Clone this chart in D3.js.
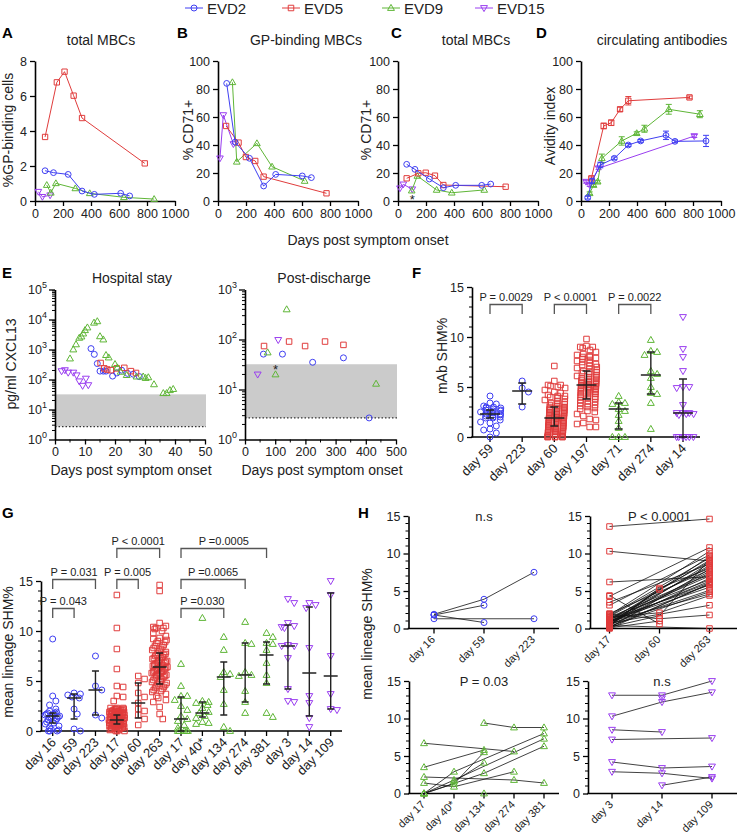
<!DOCTYPE html>
<html>
<head>
<meta charset="utf-8">
<script src="https://cdn.jsdelivr.net/npm/d3@7"></script>
<style>
    body { margin: 0; background: #fff; }
    svg { display: block; font-family: "Liberation Sans", Arial, Helvetica, sans-serif; }
</style>
</head>
<body>
<svg id="fig" width="738" height="834"></svg>
<script>
// ---------- series ----------
const seriesNames = ["EVD2", "EVD5", "EVD9", "EVD15"];
const seriesColors = ["#3f3ff2", "#e03c3c", "#5fb637", "#9a3ef0"];
const seriesShapes = ["circle", "square", "up", "down"];

// ---------- A-D: [day, value] (D: [day, value, sem]) ----------
const daysTicks = [0, 200, 400, 600, 800, 1000];
const aTicks = [0, 2, 4, 6, 8];
const pctTicks = [0, 20, 40, 60, 80, 100];

const aEVD2 = [[72, 1.73], [132, 1.62], [237, 1.52], [336, 0.57], [424, 0.38], [612, 0.44], [676, 0.29]];
const aEVD5 = [[72, 3.66], [156, 6.78], [211, 7.39], [276, 6.02], [336, 4.74], [784, 2.15]];
const aEVD9 = [[84, 0.91], [113, 0.47], [149, 1.01], [288, 0.72], [391, 0.44], [635, 0.21], [851, 0.11]];
const aEVD15 = [[24, 0.53], [53, 0.24], [108, 0.33]];

const bEVD2 = [[62, 84], [122, 42], [225, 30.5], [326, 10.7], [412, 19], [602, 17.9], [667, 16.7]];
const bEVD5 = [[58, 53.6], [147, 41.7], [199, 31.4], [266, 28.6], [326, 17.4], [775, 5.5]];
const bEVD9 = [[103, 84.8], [134, 28], [278, 41.2], [386, 24.5], [619, 14.3]];
const bEVD15 = [[14, 30.5], [38, 61.4], [110, 40.7]];

const cEVD2 = [[62, 26.2], [121, 22.6], [224, 15.7], [324, 9.5], [412, 11.2], [598, 11.2], [662, 12.1]];
const cEVD5 = [[62, 16.2], [145, 19.8], [198, 20.2], [264, 18.1], [324, 11.4], [769, 10.2]];
const cEVD9 = [[98, 7.4], [138, 17.9], [276, 7.9], [384, 5.9], [616, 7.9]];
const cEVD15 = [[14, 9.1], [38, 11.9], [102, 8.4]];
const cStar = [102, 3.2];

const dEVD2 = [[48, 2.4, 1], [79, 14.3, 1.5], [138, 25.7, 2], [238, 30.5, 1], [338, 40, 1], [426, 42.9, 1], [607, 46.9, 3], [671, 42.6, 1], [893, 42.9, 4]];
const dEVD5 = [[74, 16.2, 1], [162, 53.6, 2], [216, 55.9, 2], [279, 65.5, 1.5], [338, 71.6, 3], [775, 74, 1]];
const dEVD9 = [[62, 5.5, 1], [90, 11.4, 1], [119, 13.8, 1], [149, 30.5, 3], [291, 42.9, 3], [398, 48.4, 1], [453, 51.6, 2.5], [627, 65.5, 3.5], [849, 62, 2.5]];
const dEVD15 = [[36, 13.8, 1], [62, 11.4, 1], [126, 23.4, 1], [809, 46.4, 1]];

// ---------- E: CXCL13 pg/ml ----------
const hospTicks = [0, 10, 20, 30, 40, 50];
const postTicks = [0, 100, 200, 300, 400, 500];
const lodBand = [2.7, 32];

const eHospEVD2 = [[12, 1070], [13.1, 690], [14.1, 340], [15, 190], [16.1, 190], [17, 190], [19.2, 130], [20.6, 165], [22.2, 205], [24.2, 160], [26.1, 150], [28.1, 125]];
const eHospEVD5 = [[15.2, 355], [16.4, 235], [17.4, 215], [18.6, 205], [20.6, 235], [23.1, 245], [25.3, 190], [27, 165]];
const eHospEVD9 = [[5, 500], [6.1, 1000], [7, 1480], [8.1, 2450], [8.8, 2700], [9.4, 3400], [10, 4400], [10.8, 5400], [13, 7800], [14.1, 8700],
    [15, 2750], [16.1, 2150], [17, 650], [17.9, 540], [20, 325], [20.8, 250], [21.9, 180], [23.9, 140], [27.2, 125], [29.4, 125],
    [30.2, 112], [31.1, 118], [33, 69], [36.1, 35], [37.2, 35], [38.3, 44], [39.4, 48]];
const eHospEVD15 = [[2.2, 190], [3.3, 205], [4.4, 170], [6.1, 170], [7.2, 138], [8.1, 87], [9.2, 62], [10.3, 107], [11.1, 65]];

const ePostEVD2 = [[61, 51], [124, 51], [224, 35], [326, 43], [411, 2.7]];
const ePostEVD5 = [[63, 74], [146, 91], [199, 74], [265, 91], [326, 78]];
const ePostEVD9 = [[75, 55], [138, 400], [101, 20], [434, 13]];
const ePostEVD15 = [[110, 98], [42, 20]];
const ePostStar = [101, 27];

// ---------- F: mAb SHM% ----------
const fCats = ["day 59", "day 223", "day 60", "day 197", "day 71", "day 274", "day 14"];
const fSeries = [0, 0, 1, 1, 2, 2, 3];
const fDay59 = [4.1, 3.4, 3.3, 3.1, 3.0, 3.0, 2.9, 2.9, 2.8, 2.7, 2.7, 2.6, 2.6, 2.5, 2.4, 2.3, 2.3, 2.2, 2.2, 2.1, 2.0, 2.0, 1.9, 1.9, 1.7, 1.5, 1.4, 1.1, 0.8, 0.7, 0.4, 0.0];
const fDay223 = [5.6, 4.9, 4.5, 3.0];
const fDay60 = [7.1, 5.6, 5.2, 5.2, 5.1, 5.0, 4.9, 4.7, 4.5, 4.4, 4.2, 4.1, 4.1, 4.0, 3.9, 3.8, 3.7, 3.6, 3.5, 3.4, 3.3, 3.3, 3.2, 3.1,
    3.0, 3.0, 2.9, 2.9, 2.8, 2.8, 2.7, 2.7, 2.6, 2.6, 2.5, 2.5, 2.4, 2.4, 2.3, 2.3, 2.2, 2.2, 2.1, 2.1, 2.0, 2.0, 1.9, 1.9, 1.9,
    1.8, 1.8, 1.7, 1.7, 1.6, 1.6, 1.5, 1.5, 1.4, 1.4, 1.3, 1.3, 1.2, 1.2, 1.1, 1.1, 1.0, 1.0, 1.0, 0.9, 0.9, 0.8, 0.8, 0.7, 0.7,
    0.6, 0.6, 0.5, 0.5, 0.4, 0.4, 0.3, 0.3, 0.2, 0.2, 0.1, 0.1, 0, 0, 0, 0, 0, 0];
const fDay197 = [9.8, 9.1, 9.0, 9.0, 8.9, 8.7, 8.5, 8.3, 8.2, 8.1, 8.0, 8.0, 7.9, 7.8, 7.7, 7.6, 7.5, 7.4, 7.3, 7.2, 7.1, 7.0, 6.9,
    6.8, 6.7, 6.6, 6.5, 6.5, 6.4, 6.3, 6.2, 6.1, 6.0, 6.0, 5.9, 5.8, 5.8, 5.7, 5.6, 5.6, 5.5, 5.5, 5.4, 5.4, 5.3, 5.3, 5.2, 5.2,
    5.1, 5.1, 5.0, 5.0, 4.9, 4.9, 4.8, 4.8, 4.7, 4.7, 4.6, 4.5, 4.5, 4.4, 4.3, 4.3, 4.2, 4.1, 4.0, 4.0, 3.9, 3.8, 3.7, 3.6, 3.5,
    3.4, 3.3, 3.2, 3.1, 3.0, 2.9, 2.8, 2.6, 2.5, 2.3, 2.1, 1.8, 1.7, 1.4, 1.3, 1.0, 1.0];
const fDay71 = [4.1, 3.5, 3.4, 3.3, 2.8, 2.6, 2.2, 1.6, 0.9, 0, 0, 0];
const fDay274 = [9.7, 8.6, 8.5, 8.2, 6.6, 6.3, 5.9, 5.0, 4.4, 4.3, 3.4, 0.8];
const fDay14 = [12.0, 8.8, 8.0, 6.6, 5.0, 5.0, 4.9, 3.2, 2.4, 2.4, 2.3, 2.3, 2.4, 2.2, 0, 0, 0, 0, 0, 0];
const fMedian = [2.3, 4.6, 1.9, 5.2, 2.8, 6.2, 2.4];
const fLow = [1.9, 3.3, 1.1, 3.8, 0.8, 4.3, 0];
const fHigh = [2.7, 5.4, 3.0, 6.6, 3.4, 8.5, 5.8];
const fBrackets = [[0, 1, "P = 0.0029"], [2, 3, "P < 0.0001"], [4, 5, "P = 0.0022"]];

// ---------- G: mean lineage SHM% ----------
const gCats = ["day 16", "day 59", "day 223", "day 17", "day 60", "day 263", "day 17", "day 40*", "day 134", "day 274", "day 381", "day 3", "day 14", "day 109"];
const gSeries = [0, 0, 0, 1, 1, 1, 2, 2, 2, 2, 2, 3, 3, 3];
const gDay16 = [9.2, 3.5, 3.0, 2.6, 2.2, 2.0, 1.9, 1.8, 1.8, 1.7, 1.7, 1.6, 1.5, 1.5, 1.4, 1.4, 1.3, 1.2, 1.1, 1.0, 0.9, 0.8, 0.7, 0.5, 0.3, 0.2, 0.1, 0, 0, 0];
const gDay59 = [3.8, 3.7, 3.6, 3.4, 3.3, 2.2, 1.7, 0.2, 0.0];
const gDay223 = [7.5, 4.5, 4.1, 1.6, 1.3];
const gDay17r = [13.6, 10.3, 8.2, 6.2, 4.5, 4.4, 3.5, 3.4, 3.0,
    2.3, 2.3, 2.3, 2.2, 2.2, 2.2, 2.1, 2.1, 2.1, 2.0, 2.0, 2.0, 2.0, 1.9, 1.9, 1.9, 1.9, 1.8, 1.8, 1.8, 1.8, 1.7, 1.7, 1.7, 1.7,
    1.6, 1.6, 1.6, 1.6, 1.5, 1.5, 1.5, 1.5, 1.4, 1.4, 1.4, 1.4, 1.3, 1.3, 1.3, 1.3, 1.2, 1.2, 1.2, 1.2, 1.1, 1.1, 1.1, 1.1,
    1.0, 1.0, 1.0, 1.0, 0.9, 0.9, 0.9, 0.9, 0.8, 0.8, 0.8, 0.8, 0.7, 0.7, 0.7, 0.7, 0.6, 0.6, 0.6, 0.5, 0.5, 0.5, 0.4, 0.4, 0.4,
    0.3, 0.3, 0.3, 0.2, 0.2, 0.2, 0.1, 0.1, 0.0, 0.0, 0.0];
const gDay60r = [5.5, 5.2, 4.8, 3.8, 3.4, 2.8, 2.2, 2.0, 1.6, 1.2, 0.6];
const gDay263r = [14.6, 14.0, 10.8, 10.5, 10.4, 10.3, 10.3, 10.2, 10.0, 9.8, 9.5, 9.3, 9.2, 9.1, 9.0, 8.9, 8.8, 8.6, 8.5, 8.4,
    8.3, 8.2, 8.1, 8.0, 7.9, 7.8, 7.7, 7.6, 7.6, 7.5, 7.4, 7.3, 7.3, 7.2, 7.1, 7.0, 7.0, 6.9, 6.8, 6.8, 6.7, 6.6, 6.6, 6.5, 6.5,
    6.4, 6.4, 6.3, 6.3, 6.2, 6.2, 6.1, 6.0, 6.0, 5.9, 5.9, 5.8, 5.8, 5.7, 5.6, 5.6, 5.5, 5.5, 5.4, 5.3, 5.2, 5.1, 5.0, 4.9, 4.9,
    4.8, 4.7, 4.6, 4.5, 4.4, 4.3, 4.2, 4.1, 4.0, 3.9, 3.7, 3.5, 3.3, 3.1, 2.9, 2.4, 1.7, 1.2];
const gDay17g = [6.7, 4.5, 3.5, 3.5, 3.1, 2.5, 2.1, 1.5, 1.2, 1.0, 0.6, 0.3, 0, 0, 0, 0, 0];
const gDay40g = [11.3, 3.0, 2.9, 2.8, 2.6, 2.3, 1.9, 1.8, 1.5, 1.3, 0.9, 0.8, 0.7];
const gDay134g = [9.4, 8.1, 5.9, 5.7, 5.4, 4.1, 2.7, 0.4, 0];
const gDay274g = [10.9, 8.8, 8.7, 5.9, 5.6, 5.5, 4.0, 2.9, 1.8];
const gDay381g = [9.8, 9.4, 8.8, 8.7, 8.1, 6.8, 5.6, 4.8, 1.8, 1.4];
const gDay3p = [13.2, 12.8, 10.8, 10.5, 10.4, 10.3, 8.6, 8.5, 8.5, 7.3, 4.2, 3.0, 2.9];
const gDay14p = [12.8, 12.6, 12.3, 8.3, 3.5, 2.8, 1.3, 0.4];
const gDay109p = [15.0, 13.6, 7.5, 3.7, 2.2, 2.1];
const gMedian = [1.5, 3.3, 4.1, 1.1, 2.8, 6.4, 1.2, 1.8, 5.4, 5.6, 7.6, 8.5, 5.8, 5.5];
const gLow = [0.8, 1.2, 1.6, 0.7, 1.3, 4.7, 0, 1.4, 1.6, 2.9, 4.7, 4.2, 1.5, 2.2];
const gHigh = [1.8, 3.7, 6.0, 1.6, 4.8, 7.8, 3.4, 2.9, 6.9, 8.8, 8.9, 10.6, 12.4, 13.8];
// [from, to, label, level]
const gBrackets = [[0, 1, "P = 0.043", 2], [0, 2, "P = 0.031", 1], [3, 4, "P = 0.005", 1], [3, 5, "P < 0.0001", 0],
    [6, 10, "P =0.0005", 0], [6, 9, "P =0.0065", 1], [6, 8, "P =0.030", 2]];

// ---------- H: paired lineages ----------
const hCatsEVD2 = ["day 16", "day 59", "day 223"];
const hRowsEVD2 = [[1.9, 3.9, 7.5], [1.8, 3.1, null], [1.8, 0.8, null], [1.3, null, 1.3]];
const hCatsEVD5 = ["day 17", "day 60", "day 263"];
const hRowsEVD5 = [[13.6, null, 14.6], [10.3, null, 9.0], [6.2, null, 6.9], [4.4, 0.6, null], [4.3, null, 10.8], [3.5, null, 8.6],
    [3.1, null, 9.8], [2.0, null, 7.8], [1.9, 1.3, 1.8], [1.8, null, 10.3], [1.7, null, 9.4], [1.6, null, 8.9], [1.5, 2.1, 4.4],
    [1.5, null, 7.2], [1.4, null, 6.5], [1.3, null, 8.2], [1.2, null, 5.8], [1.2, null, 7.0], [1.1, null, 9.1], [1.0, null, 6.1],
    [1.0, null, 5.5], [0.9, null, 8.4], [0.9, null, 4.6], [0.8, null, 7.6], [0.8, null, 6.3], [0.7, null, 3.1], [0.7, null, 9.6],
    [0.6, null, 5.1], [0.6, null, 7.4], [0.5, 5.2, null], [0.5, null, 8.7], [0.4, null, 0], [0.4, null, 6.7], [0.3, 5.4, 8.0],
    [0.3, null, 4.9], [0.2, 1.7, 9.2], [0.2, null, 5.9], [0.1, 1.0, null], [0.1, null, 7.9], [0.0, null, 6.0]];
const hCatsEVD9 = ["day 17", "day 40*", "day 134", "day 274", "day 381"];
const hRowsEVD9 = [[6.7, null, null, 5.6, null], [3.5, null, 5.8, null, null], [2.2, null, null, 1.8, 1.4], [1.4, 0.9, null, 2.9, null],
    [0, 2.9, null, null, 8.0], [0, 1.8, null, null, 7.3], [0, 1.3, 5.5, null, null], [0, null, 2.7, null, 6.3],
    [null, 1.6, 4.1, null, null], [null, null, 9.4, 8.8, 8.8], [null, null, 0, null, null]];
const hCatsEVD15 = ["day 3", "day 14", "day 109"];
const hRowsEVD15 = [[13.1, 13.1, 15.0], [10.3, 12.2, 13.5], [null, 12.7, null], [8.5, 8.2, null], [7.2, null, 7.4],
    [4.2, 3.4, 3.6], [2.9, 2.7, 2.0], [null, 1.1, 2.2]];
const hLabels = ["n.s", "P < 0.0001", "P = 0.03", "n.s"];

// ---------- drawing ----------
const svg = d3.select("#fig");
svg.append("rect").attr("width", 738).attr("height", 834).attr("fill", "#fff");

const INK = "#222";
const FONT_TICK = 12.5;

function shapePath(shape, r) {
    const p = d3.path();
    if (shape === "circle") { p.moveTo(r, 0); p.arc(0, 0, r, 0, 2 * Math.PI); }
    else if (shape === "square") { const h = r * 0.92; p.rect(-h, -h, 2 * h, 2 * h); }
    else if (shape === "up") { p.moveTo(0, -r * 1.2); p.lineTo(r * 1.15, r * 0.8); p.lineTo(-r * 1.15, r * 0.8); p.closePath(); }
    else { p.moveTo(0, r * 1.2); p.lineTo(r * 1.15, -r * 0.8); p.lineTo(-r * 1.15, -r * 0.8); p.closePath(); }
    return p.toString();
}

function drawMarks(g, pts, si, r = 3) {
    g.append("g").selectAll("path").data(pts).join("path")
        .attr("d", shapePath(seriesShapes[si], r))
        .attr("transform", d => `translate(${d.x},${d.y})`)
        .attr("fill", "none")
        .attr("stroke", seriesColors[si])
        .attr("stroke-width", 1);
}

function axisStyle(sel) {
    sel.select(".domain").attr("stroke", "#000").attr("stroke-width", 1.6);
    sel.selectAll(".tick line").attr("stroke", "#000").attr("stroke-width", 1.3);
    sel.selectAll(".tick text").attr("font-size", FONT_TICK).attr("fill", INK);
}

function text(g, x, y, str, opts = {}) {
    const t = g.append("text").attr("x", x).attr("y", y).text(str)
        .attr("font-size", opts.size ?? 14)
        .attr("fill", opts.fill ?? INK)
        .attr("text-anchor", opts.anchor ?? "middle");
    if (opts.bold) t.attr("font-weight", "bold");
    return t;
}

function rotText(g, x, y, str, size = 14) {
    g.append("text").attr("transform", `translate(${x},${y}) rotate(-90)`)
        .attr("text-anchor", "middle").attr("font-size", size).attr("fill", INK).text(str);
}

// legend
const legendX = [185, 282, 382, 475];
seriesNames.forEach((name, i) => {
    const g = svg.append("g");
    g.append("line").attr("x1", legendX[i]).attr("x2", legendX[i] + 18).attr("y1", 8).attr("y2", 8)
        .attr("stroke", seriesColors[i]).attr("stroke-width", 1);
    drawMarks(g, [{ x: legendX[i] + 9, y: 8 }], i, 3);
    text(g, legendX[i] + 22, 13.5, name, { size: 15, anchor: "start" });
});

// A-D
function xyPanel(opt) {
    const g = svg.append("g");
    const x = d3.scaleLinear([0, 1000], [opt.x0, opt.x0 + 140]);
    const y = d3.scaleLinear([0, opt.yMax], [201, 61]);
    g.append("g").attr("transform", "translate(0,201)")
        .call(d3.axisBottom(x).tickValues(daysTicks).tickFormat(d3.format("d")).tickSize(5).tickSizeOuter(0).tickPadding(3))
        .call(axisStyle);
    g.append("g").attr("transform", `translate(${opt.x0},0)`)
        .call(d3.axisLeft(y).tickValues(opt.ticks).tickSize(5).tickSizeOuter(0).tickPadding(3)).call(axisStyle);

    for (let si = opt.series.length - 1; si >= 0; si--) {
        const data = opt.series[si];
        const c = seriesColors[si];
        g.append("path").datum(data)
            .attr("d", d3.line(d => x(d[0]), d => y(d[1])))
            .attr("fill", "none").attr("stroke", c).attr("stroke-width", 1);
        data.filter(d => d.length > 2).forEach(d => {
            const y1 = y(d[1] - d[2]), y2 = y(d[1] + d[2]), xx = x(d[0]);
            g.append("path").attr("d", `M${xx},${y1}V${y2}M${xx - 3},${y1}H${xx + 3}M${xx - 3},${y2}H${xx + 3}`)
                .attr("stroke", c).attr("stroke-width", 1).attr("fill", "none");
        });
        drawMarks(g, data.map(d => ({ x: x(d[0]), y: y(d[1]) })), si, 2.9);
    }
    if (opt.star) text(g, x(opt.star[0]), y(opt.star[1]) + 7, "*", { size: 13 });
    text(g, opt.titleX, 45, opt.title);
    text(g, opt.letterX, 38, opt.letter, { size: 15, bold: true, anchor: "start", fill: "#000" });
    rotText(g, opt.labelX, opt.labelY, opt.label);
}

xyPanel({ x0: 35, yMax: 8, ticks: aTicks, series: [aEVD2, aEVD5, aEVD9, aEVD15], title: "total MBCs", titleX: 101,
    letter: "A", letterX: 2, label: "%GP-binding cells", labelX: 13, labelY: 130 });
xyPanel({ x0: 218, yMax: 100, ticks: pctTicks, series: [bEVD2, bEVD5, bEVD9, bEVD15], title: "GP-binding MBCs", titleX: 306,
    letter: "B", letterX: 177, label: "% CD71+", labelX: 193, labelY: 130 });
xyPanel({ x0: 398, yMax: 100, ticks: pctTicks, series: [cEVD2, cEVD5, cEVD9, cEVD15], title: "total MBCs", titleX: 476,
    letter: "C", letterX: 391, label: "% CD71+", labelX: 371, labelY: 130, star: cStar });
xyPanel({ x0: 581, yMax: 100, ticks: pctTicks, series: [dEVD2, dEVD5, dEVD9, dEVD15], title: "circulating antibodies", titleX: 662,
    letter: "D", letterX: 536, label: "Avidity index", labelX: 555, labelY: 126 });
text(svg, 368, 245, "Days post symptom onset");

// E
function logPanel(opt) {
    const g = svg.append("g");
    const x = d3.scaleLinear([0, opt.xMax], [opt.x0, opt.x1]);
    const y = d3.scaleLog([1, 10 ** opt.maxExp], [439.5, 289.5]);
    g.append("rect").attr("x", opt.x0).attr("width", opt.bandEnd - opt.x0)
        .attr("y", y(lodBand[1])).attr("height", y(lodBand[0]) - y(lodBand[1])).attr("fill", "#cbcbcb");
    g.append("line").attr("x1", opt.x0).attr("x2", opt.bandEnd).attr("y1", y(lodBand[0])).attr("y2", y(lodBand[0]))
        .attr("stroke", "#333").attr("stroke-width", 1.2).attr("stroke-dasharray", "1.5,2");

    g.append("g").attr("transform", "translate(0,439.5)")
        .call(d3.axisBottom(x).tickValues(opt.xTicks).tickSize(5).tickSizeOuter(0).tickPadding(3)).call(axisStyle);
    g.append("g").selectAll("line").data(opt.xMinor).join("line")
        .attr("x1", d => x(d)).attr("x2", d => x(d)).attr("y1", 439.5).attr("y2", 442.5)
        .attr("stroke", "#000").attr("stroke-width", 1);

    const majors = d3.range(0, opt.maxExp + 1).map(k => 10 ** k);
    const minors = d3.range(0, opt.maxExp).flatMap(k => d3.range(2, 10).map(m => m * 10 ** k));
    g.append("g").attr("transform", `translate(${opt.x0},0)`)
        .call(d3.axisLeft(y).tickValues(majors).tickSize(6).tickSizeOuter(0).tickFormat(() => "")).call(axisStyle);
    g.append("g").selectAll("line").data(minors).join("line")
        .attr("x1", opt.x0).attr("x2", opt.x0 - 3).attr("y1", d => y(d)).attr("y2", d => y(d))
        .attr("stroke", "#000").attr("stroke-width", 1);
    majors.forEach((v, k) => {
        const t = g.append("text").attr("x", opt.x0 - 8).attr("y", y(v) + 4.5)
            .attr("text-anchor", "end").attr("font-size", FONT_TICK).attr("fill", INK);
        t.append("tspan").text("10");
        t.append("tspan").attr("dy", -6).attr("font-size", 9).text(k);
    });

    opt.series.forEach((data, si) => drawMarks(g, data.map(d => ({ x: x(d[0]), y: y(d[1]) })), si, 3));
    if (opt.star) text(g, x(opt.star[0]), y(opt.star[1]) + 6, "*", { size: 13 });
    text(g, opt.titleX, 283, opt.title);
    text(g, opt.labelX, 475, "Days post symptom onset");
}

logPanel({ x0: 55, x1: 205, xMax: 50, xTicks: hospTicks, xMinor: [5, 15, 25, 35, 45], maxExp: 5, bandEnd: 206,
    series: [eHospEVD2, eHospEVD5, eHospEVD9, eHospEVD15], title: "Hospital stay", titleX: 132, labelX: 131 });
logPanel({ x0: 245, x1: 396, xMax: 500, xTicks: postTicks, xMinor: [50, 150, 250, 350, 450], maxExp: 3, bandEnd: 397,
    series: [ePostEVD2, ePostEVD5, ePostEVD9, ePostEVD15], title: "Post-discharge", titleX: 324, labelX: 322, star: ePostStar });
text(svg, 2, 278, "E", { size: 15, bold: true, anchor: "start", fill: "#000" });
rotText(svg, 16, 364, "pg/ml CXCL13");

// swarm layout for scatter columns
function swarm(vals, cx, y, r, halfW) {
    const placed = [];
    const pts = vals.map(v => ({ y: y(v) })).sort((a, b) => a.y - b.y);
    const step = r * 1.05, minD = r * 1.9;
    pts.forEach((p, i) => {
        let best = null;
        for (let k = 0; best === null && k * step <= halfW; k++) {
            for (const s of (k === 0 ? [0] : [k, -k])) {
                const xx = cx + s * step;
                if (placed.every(q => Math.hypot(q.x - xx, q.y - p.y) >= minD)) { best = xx; break; }
            }
        }
        if (best === null) best = cx - halfW + ((i * 7.3) % (2 * halfW));
        p.x = best;
        placed.push(p);
    });
    return placed;
}

function catAxes(g, cats, x, y, opt) {
    g.append("g").attr("transform", `translate(${opt.ax0},0)`)
        .call(d3.axisLeft(y).tickValues([0, 5, 10, 15]).tickSize(5).tickSizeOuter(0).tickPadding(3)).call(axisStyle);
    g.append("g").selectAll("line").data(d3.range(0, 16).filter(v => v % 5)).join("line")
        .attr("x1", opt.ax0).attr("x2", opt.ax0 - 3).attr("y1", d => y(d)).attr("y2", d => y(d))
        .attr("stroke", "#000").attr("stroke-width", 1);
    g.append("line").attr("x1", opt.ax0 - 0.8).attr("x2", opt.ax1).attr("y1", opt.yBase).attr("y2", opt.yBase)
        .attr("stroke", "#000").attr("stroke-width", 1.6);
    const lx = opt.labelDx ?? 1;
    cats.forEach((c, i) => {
        g.append("line").attr("x1", x(i)).attr("x2", x(i)).attr("y1", opt.yBase).attr("y2", opt.yBase + 5)
            .attr("stroke", "#000").attr("stroke-width", 1.3);
        g.append("text").attr("transform", `translate(${x(i) + lx},${opt.yBase + 9}) rotate(-45)`)
            .attr("text-anchor", "end").attr("dy", "0.35em").attr("font-size", opt.labelSize ?? 13).attr("fill", INK).text(c);
    });
}

function scatterPanel(opt) {
    const g = svg.append("g");
    const n = opt.cats.length;
    const x = d3.scalePoint().domain(d3.range(n)).range([opt.p0, opt.p1]);
    const y = d3.scaleLinear([0, 15], [opt.yBase, opt.yBase - 150]);
    catAxes(g, opt.cats, x, y, opt);
    opt.groups.forEach((vals, i) => drawMarks(g, swarm(vals, x(i), y, 3, opt.halfW), opt.series[i], 3));
    opt.groups.forEach((vals, i) => {
        const cx = x(i), yl = y(opt.low[i]), yh = y(opt.high[i]), ym = y(opt.median[i]);
        g.append("path")
            .attr("d", `M${cx},${yl}V${yh}M${cx - opt.capW},${yl}H${cx + opt.capW}M${cx - opt.capW},${yh}H${cx + opt.capW}` +
                `M${cx - opt.medW},${ym}H${cx + opt.medW}`)
            .attr("stroke", INK).attr("stroke-width", 1.4).attr("fill", "none");
    });
    opt.brackets.forEach(b => {
        const top = opt.levels[b[3] ?? 0], x1 = x(b[0]), x2 = x(b[1]);
        g.append("path").attr("d", `M${x1},${top + 9.5}V${top}H${x2}V${top + 9.5}`)
            .attr("stroke", "#555").attr("stroke-width", 1.3).attr("fill", "none");
        text(g, (x1 + x2) / 2, top - 4, b[2], { size: 11 });
    });
}

scatterPanel({ cats: fCats, series: fSeries, groups: [fDay59, fDay223, fDay60, fDay197, fDay71, fDay274, fDay14],
    median: fMedian, low: fLow, high: fHigh, brackets: fBrackets, levels: [304.5],
    p0: 490, p1: 683, ax0: 472, ax1: 700, yBase: 437, halfW: 11, medW: 10, capW: 4 });
text(svg, 412, 278, "F", { size: 15, bold: true, anchor: "start", fill: "#000" });
rotText(svg, 447, 356, "mAb SHM%");

scatterPanel({ cats: gCats, series: gSeries,
    groups: [gDay16, gDay59, gDay223, gDay17r, gDay60r, gDay263r, gDay17g, gDay40g, gDay134g, gDay274g, gDay381g, gDay3p, gDay14p, gDay109p],
    median: gMedian, low: gLow, high: gHigh, brackets: gBrackets, levels: [548.5, 579.5, 608.5],
    p0: 52.7, p1: 330.7, ax0: 41, ax1: 342, yBase: 731, halfW: 8, medW: 7, capW: 3.5 });
text(svg, 2, 518, "G", { size: 15, bold: true, anchor: "start", fill: "#000" });
rotText(svg, 13, 652, "mean lineage SHM%");

// H
function pairPanel(opt) {
    const g = svg.append("g");
    const n = opt.cats.length;
    const x = d3.scalePoint().domain(d3.range(n)).range([opt.p0, opt.p1]);
    const y = d3.scaleLinear([0, 15], [opt.yBase, opt.yBase - 112.5]);
    catAxes(g, opt.cats, x, y, { ...opt, labelSize: 11, labelDx: -1 });
    opt.rows.forEach(row => {
        const pts = row.map((v, i) => v === null ? null : [x(i), y(v)]).filter(p => p);
        g.append("path").datum(pts).attr("d", d3.line()).attr("fill", "none").attr("stroke", "#111").attr("stroke-width", 0.8);
    });
    const marks = opt.rows.flatMap(row => row.map((v, i) => v === null ? null : { x: x(i), y: y(v) }).filter(p => p));
    drawMarks(g, marks, opt.si, 3);
    text(g, (opt.p0 + opt.p1) / 2, opt.yBase - 108, opt.label, { size: 13 });
}

pairPanel({ cats: hCatsEVD2, rows: hRowsEVD2, si: 0, label: hLabels[0], p0: 434, p1: 534, ax0: 408.5, ax1: 559, yBase: 628.5 });
pairPanel({ cats: hCatsEVD5, rows: hRowsEVD5, si: 1, label: hLabels[1], p0: 609.5, p1: 709.5, ax0: 590, ax1: 737, yBase: 628.5 });
pairPanel({ cats: hCatsEVD9, rows: hRowsEVD9, si: 2, label: hLabels[2], p0: 424, p1: 544, ax0: 409, ax1: 559, yBase: 793.5 });
pairPanel({ cats: hCatsEVD15, rows: hRowsEVD15, si: 3, label: hLabels[3], p0: 612, p1: 712, ax0: 588, ax1: 737, yBase: 793.5 });
text(svg, 358, 518, "H", { size: 15, bold: true, anchor: "start", fill: "#000" });
rotText(svg, 372, 634, "mean lineage SHM%");
</script>
</body>
</html>
